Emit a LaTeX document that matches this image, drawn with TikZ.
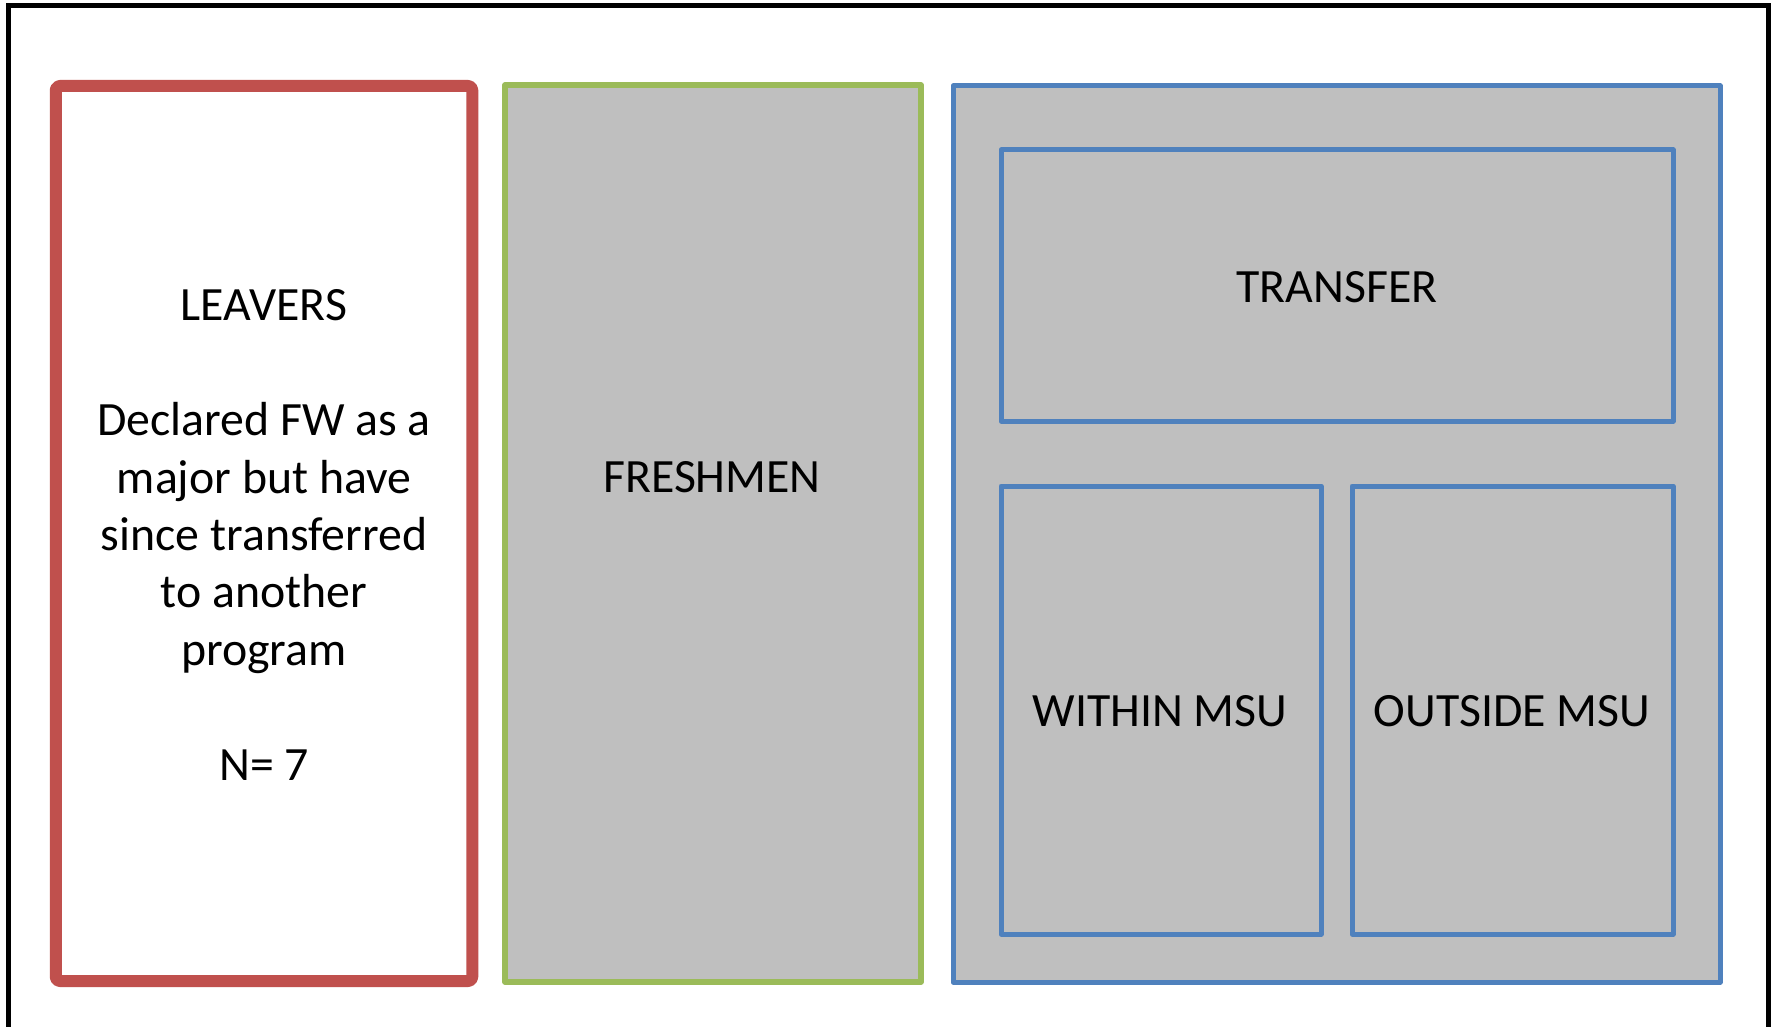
\documentclass[tikz,border=0pt]{standalone}
\usepackage{fontspec}
\setmainfont{Carlito}
\definecolor{cred}{HTML}{C0504D}
\definecolor{cgreen}{HTML}{9BBB59}
\definecolor{cblue}{HTML}{4F81BD}
\definecolor{cgray}{HTML}{BFBFBF}
\begin{document}
\begin{tikzpicture}[x=0.5pt,y=-0.5pt,
  box/.style={rectangle,inner sep=0pt,outer sep=0pt,line join=round},
  lbl/.style={inner sep=0pt,align=center,font=\fontsize{23.9pt}{28.7pt}\selectfont}]
\useasboundingbox (0,0) rectangle (1776,1027);
\fill[white] (0,0) rectangle (1776,1027);
\draw[line width=2.5pt,black,line join=miter] (8,1040) -- (8,6) -- (1768,6) -- (1768,1040);
\node[box,draw=cred,fill=white,line width=6pt,rounded corners=2pt,minimum width=208.25pt,minimum height=447.5pt] (leavers) at (264,533.5) {};
\node[box,draw=cgreen,fill=cgray,line width=2.8pt,minimum width=208pt,minimum height=448.5pt] (fresh) at (713,533.5) {};
\node[box,draw=cblue,fill=cgray,line width=2.5pt,minimum width=383.5pt,minimum height=448pt] (outer) at (1336.5,534) {};
\node[box,draw=cblue,fill=cgray,line width=2.5pt,minimum width=336pt,minimum height=135.5pt] (transfer) at (1337,285.5) {};
\node[box,draw=cblue,fill=cgray,line width=2.5pt,minimum width=160pt,minimum height=224pt] (within) at (1161,710) {};
\node[box,draw=cblue,fill=cgray,line width=2.5pt,minimum width=160.5pt,minimum height=224pt] (outside) at (1512.5,710) {};
\node[lbl] (tleavers) at (264,535) {LEAVERS\\[28.7pt]Declared FW as a\\major but have\\since transferred\\to another\\program\\[28.7pt]N= 7};
\node[lbl] (tfresh) at (712,477) {FRESHMEN};
\node[lbl] (ttransfer) at (1337,287) {TRANSFER};
\node[lbl] (twithin) at (1160,711) {WITHIN MSU};
\node[lbl] (toutside) at (1512,711) {OUTSIDE MSU};
\end{tikzpicture}
\end{document}
